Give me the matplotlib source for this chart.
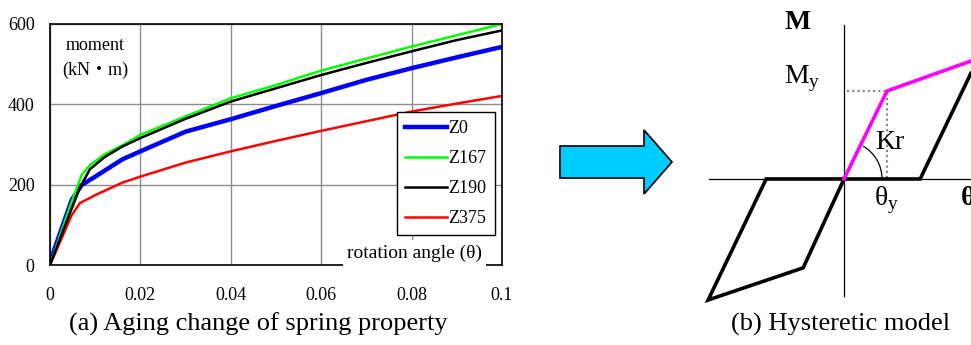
import numpy as np
import matplotlib.pyplot as plt
import matplotlib.patches as patches

plt.rcParams['font.family'] = ['Liberation Serif', 'Noto Sans CJK JP']
plt.rcParams['mathtext.fontset'] = 'custom'
plt.rcParams['mathtext.rm'] = 'Liberation Serif'
plt.rcParams['mathtext.bf'] = 'Liberation Serif:bold'

# (a) moment - rotation curves
z0_x = [0, 0.0048, 0.0070, 0.010, 0.016, 0.020, 0.030, 0.040, 0.050, 0.060, 0.070, 0.080, 0.090, 0.100]
z0_y = [8, 162, 199, 220, 263, 283, 332, 363, 396, 428, 461, 490, 517, 543]
z167_x = [0, 0.0044, 0.0070, 0.0088, 0.012, 0.016, 0.020, 0.030, 0.040, 0.050, 0.060, 0.070, 0.080, 0.090, 0.100]
z167_y = [0, 145, 224, 248, 275, 298, 324, 370, 415, 448, 484, 514, 544, 572, 600]
z190_x = [0, 0.0044, 0.0066, 0.0088, 0.012, 0.016, 0.020, 0.030, 0.040, 0.050, 0.060, 0.070, 0.080, 0.090, 0.100]
z190_y = [0, 129, 192, 238, 268, 295, 316, 364, 407, 440, 473, 503, 532, 560, 584]
z375_x = [0, 0.0048, 0.0066, 0.010, 0.016, 0.020, 0.030, 0.040, 0.050, 0.060, 0.070, 0.080, 0.090, 0.100]
z375_y = [0, 124, 154, 174, 205, 220, 255, 283, 309, 334, 358, 382, 402, 421]

x_ticks = [0, 0.02, 0.04, 0.06, 0.08, 0.1]
x_labels = ['0', '0.02', '0.04', '0.06', '0.08', '0.1']
y_ticks = [0, 200, 400, 600]

# (b) hysteretic model (theta / theta_y, M / M_y)
skel_t = [0, 1.0, 2.95]
skel_m = [0, 1.0, 1.34]
loop_t = [2.95, 1.77, -1.81, -3.16, -0.95, 0]
loop_m = [1.2, 0, 0, -1.375, -1.01, 0]

fig = plt.figure(figsize=(9.71, 3.45), dpi=100)

# ---- left chart
ax = fig.add_axes([50 / 971, 80 / 345, 452 / 971, 241 / 345])
ax.plot(z0_x, z0_y, color='#0000ff', lw=3.2, label='Z0', zorder=3)
ax.plot(z167_x, z167_y, color='#00ff00', lw=1.8, label='Z167', zorder=4)
ax.plot(z190_x, z190_y, color='#000000', lw=1.8, label='Z190', zorder=5)
ax.plot(z375_x, z375_y, color='#ff0000', lw=1.8, label='Z375', zorder=3)
ax.set_xlim(0, 0.1)
ax.set_ylim(0, 600)
ax.set_xticks(x_ticks)
ax.set_xticklabels(x_labels)
ax.set_yticks(y_ticks)
ax.tick_params(axis='x', length=0, pad=16, labelsize=13)
ax.tick_params(axis='y', length=0, pad=11, labelsize=13)
ax.grid(True, color='#8c8c8c', lw=1.0)
for s in ax.spines.values():
    s.set_linewidth(1.2)
    s.set_color('black')
    s.set_zorder(6)

leg = ax.legend(loc='upper left', bbox_to_anchor=(0.768, 0.636), fontsize=13,
                frameon=True, fancybox=False, edgecolor='black', framealpha=1,
                handlelength=2.3, handletextpad=0.1, labelspacing=0.72,
                borderpad=0.45, borderaxespad=0)
leg.get_frame().set_linewidth(1.0)
leg.set_zorder(7)

ax.text(0.0996, 0.86, 'moment\n(kN・m)', transform=ax.transAxes, ha='center', va='center',
        fontsize=13, linespacing=1.6, zorder=7)
ax.text(0.955, 0.05, 'rotation angle (θ)', transform=ax.transAxes, ha='right', va='center',
        fontsize=14, zorder=7,
        bbox=dict(facecolor='white', edgecolor='none', pad=3.0))

fig.text(258 / 971, 1 - 324 / 345, '(a) Aging change of spring property',
         ha='center', va='center', fontsize=19)

# ---- arrow
ov = fig.add_axes([0, 0, 1, 1])
ov.set_xlim(0, 971)
ov.set_ylim(345, 0)
ov.axis('off')
ov.add_patch(patches.FancyArrow(560, 162, 84, 0, width=32, head_width=64, head_length=28,
                                length_includes_head=False, facecolor='#00ccff',
                                edgecolor='black', lw=1.2))

# ---- right diagram
px_t, px_m = 43, 88  # pixels per unit
dx = fig.add_axes([700 / 971, 35 / 345, 271 / 971, 300 / 345])
dx.set_xlim(-3.349, 2.953)
dx.set_ylim(-1.489, 1.920)
dx.axis('off')
dx.plot([0, 0], [-1.33, 1.75], color='black', lw=0.9)
dx.plot([-3.14, 2.953], [0, 0], color='black', lw=0.9)
dx.plot([0.07, skel_t[1], skel_t[1]], [skel_m[1], skel_m[1], 0], color='#808080', lw=1.5,
        ls=(0, (1, 1.5)))
dx.plot(loop_t, loop_m, color='black', lw=2.6, solid_joinstyle='miter', clip_on=False)
dx.plot(skel_t, skel_m, color='#ff00ff', lw=2.6, clip_on=False)
r = 38
ang = np.degrees(np.arctan2(np.sin(np.radians(60)) / px_m, np.cos(np.radians(60)) / px_t))
dx.add_patch(patches.Arc((0, 0), 2 * r / px_t, 2 * r / px_m, theta1=0, theta2=ang,
                         color='black', lw=0.9))
dx.text(-1.07, 1.78, 'M', fontsize=20, fontweight='bold', ha='center', va='center')
dx.text(-0.98, 1.14, 'M$_{\\rm y}$', fontsize=20, ha='center', va='center')
dx.text(1.07, 0.42, 'Kr', fontsize=20, ha='center', va='center')
dx.text(1.0, -0.24, 'θ$_{\\rm y}$', fontsize=20, ha='center', va='center')
dx.text(2.72, -0.22, 'θ', fontsize=20, fontweight='bold', ha='left', va='center', clip_on=False)

fig.text(841 / 971, 1 - 324 / 345, '(b) Hysteretic model', ha='center', va='center', fontsize=19)

fig.savefig('out.png', dpi=100)
